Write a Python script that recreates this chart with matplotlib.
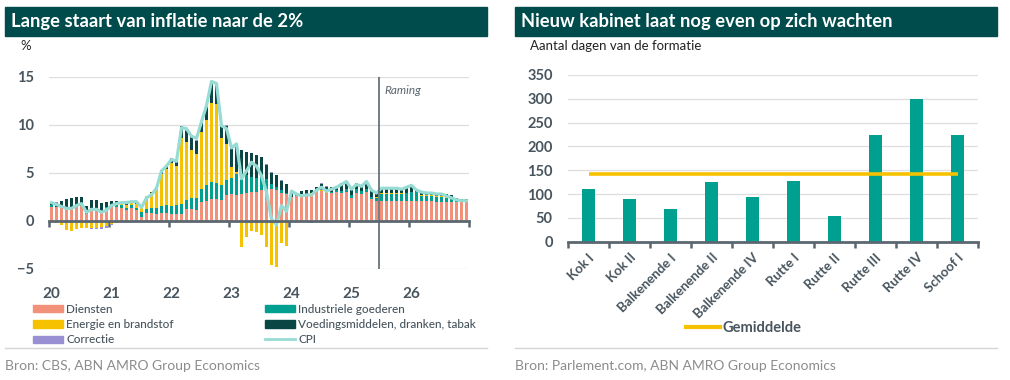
import numpy as np
import matplotlib.pyplot as plt
from matplotlib.patches import Rectangle, Patch
from matplotlib.lines import Line2D

plt.rcParams['font.family'] = ['Lato', 'DejaVu Sans']

## Data links: bijdrage aan de inflatie per maand, jan 2020 t/m dec 2026 (procentpunt)
jaren = ['20', '21', '22', '23', '24', '25', '26']
raming_vanaf = (2025, 7)   # begin van de raming

diensten = [1.45, 1.4, 1.4, 1.3, 1.3, 1.45, 1.6, 0.75, 1.3, 1.25, 0.95, 1.3,
            1.45, 1.45, 1.3, 1.1, 1.3, 1.1, 0.4, 0.8, 0.8, 0.75, 0.85, 0.8,
            0.75, 0.75, 0.75, 1.2, 1.2, 1.15, 1.95, 2.1, 2.3, 2.3, 2.2, 2.7,
            2.8, 2.7, 2.85, 2.9, 3.0, 3.0, 3.2, 3.3, 3.3, 3.2, 2.9, 2.8,
            2.5, 2.6, 2.65, 2.6, 2.8, 3.0, 3.1, 2.9, 2.9, 3.0, 2.9, 3.0,
            2.4, 2.9, 2.8, 3.0, 2.3, 2.1, 2.1, 2.1, 2.1, 2.1, 2.1, 2.1,
            2.1, 2.1, 2.1, 2.1, 2.1, 2.0, 2.0, 2.0, 2.0, 2.0, 2.0, 2.0]
industrie = [0.25, 0.1, 0.1, 0.1, 0.1, 0.1, 0.1, 0.1, 0.05, 0.1, 0.1, 0.1,
             0.3, 0.3, 0.35, 0.25, 0.35, 0.25, 0.5, 0.45, 0.5, 0.6, 0.75, 0.85,
             0.85, 0.95, 1.0, 1.0, 1.2, 1.2, 1.4, 1.6, 1.7, 1.6, 1.5, 1.6,
             1.7, 2.2, 1.9, 1.9, 1.6, 1.5, 1.4, 1.1, 0.5, 0.35, 0.3, 0.15,
             0.0, 0.05, 0.05, -0.15, -0.2, 0.0, 0.0, 0.05, 0.1, 0.2, 0.2, 0.3,
             0.3, 0.4, 0.3, 0.3, 0.2, 0.3, 0.7, 0.7, 0.7, 0.7, 0.7, 0.8,
             0.9, 0.9, 0.5, 0.5, 0.5, 0.5, 0.5, 0.4, 0.3, 0.1, 0.05, 0.05]
energie = [-0.1, -0.2, -0.45, -0.9, -1.0, -0.8, -0.7, -0.75, -0.7, -0.7, -0.65, -0.55,
           -0.35, -0.2, 0.15, 0.35, 0.35, 0.4, 0.5, 1.3, 1.6, 2.0, 3.3, 3.8,
           4.4, 4.0, 6.9, 6.0, 5.0, 4.6, 5.9, 6.8, 8.3, 8.3, 4.9, 3.7,
           1.1, 0.2, -2.7, -1.65, -1.0, -1.2, -1.5, -2.7, -4.6, -4.75, -2.3, -2.6,
           0.0, -0.1, 0.05, 0.1, 0.1, 0.1, 0.1, 0.1, 0.0, -0.1, -0.1, 0.0,
           -0.05, -0.1, 0.0, 0.0, 0.0, 0.05, 0.1, 0.1, 0.1, 0.1, 0.1, 0.05,
           0.05, 0.0, 0.05, 0.05, 0.05, 0.05, 0.05, 0.1, 0.1, 0.1, 0.1, 0.1]
voeding = [0.3, 0.3, 0.6, 0.9, 1.0, 0.9, 0.8, 0.75, 0.8, 0.85, 0.8, 0.6,
           0.3, 0.3, 0.1, 0.1, 0.1, 0.1, 0.0, 0.0, 0.1, 0.2, 0.35, 0.4,
           0.5, 0.7, 1.2, 1.2, 1.4, 1.4, 0.9, 1.3, 1.9, 1.8, 1.3, 1.9,
           1.9, 2.6, 2.6, 2.4, 2.5, 2.4, 2.0, 1.4, 1.2, 1.2, 1.0, 0.9,
           0.5, 0.3, 0.4, 0.5, 0.3, 0.4, 0.6, 0.5, 0.5, 0.4, 0.8, 0.8,
           0.6, 0.6, 0.5, 0.6, 0.7, 0.5, 0.5, 0.5, 0.5, 0.5, 0.5, 0.5,
           0.6, 0.3, 0.4, 0.35, 0.3, 0.3, 0.3, 0.3, 0.25, 0.2, 0.1, 0.1]
correctie = [0.0, 0.15, 0.0, 0.0, 0.0, 0.0, 0.0, 0.0, -0.1, -0.15, -0.15, -0.2,
             -0.1, 0.0, 0.0, 0.0, 0.0, 0.0, 0.0, 0.0, 0.0, 0.0, 0.0, 0.0,
             0.0, 0.0, 0.0, 0.15, 0.15, 0.1, 0.1, 0.1, 0.1, 0.1, 0.05, 0.05,
             0.1, 0.2, 0.05, 0.0, 0.0, 0.0, 0.0, 0.1, 0.05, 0.0, 0.1, 0.0,
             0.0, 0.0, 0.0, 0.0, 0.0, 0.0, 0.1, 0.1, 0.0, 0.0, 0.0, 0.0,
             0.0, 0.0, 0.0, 0.2, 0.0, 0.0, 0.0, 0.0, 0.0, 0.0, 0.0, 0.0,
             0.0, 0.0, 0.0, 0.0, 0.0, 0.0, 0.0, 0.0, 0.0, 0.0, 0.0, 0.0]
cpi = [1.9, 1.7, 1.5, 1.3, 1.3, 1.6, 1.8, 0.9, 1.2, 1.2, 0.9, 1.1,
       1.6, 1.8, 1.9, 1.9, 2.0, 2.0, 1.4, 2.4, 2.7, 3.4, 5.2, 5.7,
       6.4, 6.2, 9.7, 9.6, 8.8, 8.6, 10.3, 12.0, 14.5, 14.3, 9.9, 9.6,
       7.6, 8.0, 4.4, 5.2, 6.1, 5.7, 4.7, 3.0, 0.2, -0.4, 1.6, 1.0,
       3.1, 2.8, 2.6, 2.7, 2.7, 3.2, 3.5, 3.1, 3.3, 3.5, 3.8, 4.1,
       3.3, 3.8, 3.6, 4.1, 3.2, 2.9, 3.4, 3.4, 3.4, 3.4, 3.3, 3.5,
       3.7, 3.2, 3.0, 2.9, 2.9, 2.8, 2.8, 2.6, 2.4, 2.2, 2.1, 2.1]

## Data rechts: duur van de formatie
kabinetten = ['Kok I', 'Kok II', 'Balkenende I', 'Balkenende II', 'Balkenende IV',
              'Rutte I', 'Rutte II', 'Rutte III', 'Rutte IV', 'Schoof I']
dagen = [111, 90, 68, 125, 93, 127, 54, 225, 299, 223]
gemiddelde = 141.5

## Kleuren
groen = '#004b4b'
tekst = '#48555e'
as_kleur = '#5b6770'
grid_kleur = '#dedede'
kl_diensten = '#f3907a'
kl_industrie = '#00a091'
kl_energie = '#f6c200'
kl_voeding = '#0a4644'
kl_correctie = '#9990d3'
kl_cpi = '#96dcd4'

W, H = 1010, 380
fig = plt.figure(figsize=(W / 100, H / 100), dpi=100)


def fx(x):
    return x / W


def fy(y):
    return 1 - y / H


# Titelbalken, bronvermelding en scheidingslijnen
for x0, titel, bron in [(5, 'Lange staart van inflatie naar de 2%', 'Bron: CBS, ABN AMRO Group Economics'),
                        (515, 'Nieuw kabinet laat nog even op zich wachten',
                         'Bron: Parlement.com, ABN AMRO Group Economics')]:
    fig.patches.append(Rectangle((fx(x0), fy(36)), 482 / W, 29 / H, transform=fig.transFigure,
                                 color=groen, zorder=0))
    fig.text(fx(x0 + 6), fy(21.5), titel, color='white', fontsize=13.2, fontweight='bold', va='center')
    fig.add_artist(Line2D([fx(x0), fx(x0 + 482)], [fy(348), fy(348)], color='#d5d5d5', lw=1))
    fig.text(fx(x0), fy(366), bron, color='#8c8c8c', fontsize=10, va='center')

fig.text(fx(20), fy(46), '%', fontsize=9.5, color='#222222', va='center')
fig.text(fx(530), fy(46), 'Aantal dagen van de formatie', fontsize=9.5, color='#222222', va='center')

## Links: gestapelde bijdragen + CPI
ax1 = fig.add_axes([fx(49), fy(269), 420 / W, 192.3 / H])
n = len(diensten)
maand = np.arange(n)
pos = np.zeros(n)
neg = np.zeros(n)
for waarden, kleur in [(diensten, kl_diensten), (industrie, kl_industrie), (energie, kl_energie),
                       (voeding, kl_voeding), (correctie, kl_correctie)]:
    w = np.array(waarden)
    onder = np.where(w >= 0, pos, neg)
    ax1.bar(maand + 0.5, w, width=0.65, bottom=onder, color=kleur, zorder=2)
    pos += np.clip(w, 0, None)
    neg += np.clip(w, None, 0)
ax1.plot(maand + 0.5, cpi, color=kl_cpi, lw=2.3, zorder=3, solid_joinstyle='round')

ax1.set_xlim(0, n)
ax1.set_ylim(-5, 15)
ax1.set_yticks([-5, 0, 5, 10, 15])
ax1.yaxis.grid(True, color=grid_kleur, lw=0.9)
ax1.set_axisbelow(True)
for s in ['top', 'right', 'left']:
    ax1.spines[s].set_visible(False)
ax1.spines['bottom'].set_position(('data', 0))
ax1.spines['bottom'].set_color(as_kleur)
ax1.spines['bottom'].set_linewidth(2)
ax1.spines['bottom'].set_zorder(4)
ax1.set_xticks(np.arange(0, n + 1, 12))
ax1.tick_params(axis='x', length=4, width=1.8, color=as_kleur, labelbottom=False)
ax1.tick_params(axis='y', length=0, pad=11, labelsize=10.5, labelcolor=tekst)
for lbl in ax1.get_yticklabels():
    lbl.set_fontweight('bold')

sec = ax1.secondary_xaxis('bottom')
sec.set_xticks(np.arange(0, n, 12) + 0.5, jaren)
sec.tick_params(length=0, pad=13, labelsize=11, labelcolor=tekst)
sec.spines['bottom'].set_visible(False)
for lbl in sec.get_xticklabels():
    lbl.set_fontweight('bold')

raming_idx = (raming_vanaf[0] - 2020) * 12 + raming_vanaf[1] - 1
ax1.axvline(raming_idx, color=as_kleur, lw=1.2, zorder=4)
ax1.text(raming_idx + 1, 13.6, 'Raming', fontsize=8.5, style='italic', color=as_kleur, va='center')

# Legenda links in twee kolommen
lp = dict(loc='upper left', frameon=False, handlelength=2.5, handleheight=0.55, handletextpad=0.3,
          labelspacing=0.35, borderaxespad=0, borderpad=0, labelcolor=tekst,
          prop=dict(size=8.5, weight='medium'))
fig.legend(handles=[Patch(color=kl_diensten), Patch(color=kl_energie), Patch(color=kl_correctie)],
           labels=['Diensten', 'Energie en brandstof', 'Correctie'],
           bbox_to_anchor=(fx(33), fy(304)), **lp)
fig.legend(handles=[Patch(color=kl_industrie), Patch(color=kl_voeding), Line2D([], [], color=kl_cpi, lw=2)],
           labels=['Industriele goederen', 'Voedingsmiddelen, dranken, tabak', 'CPI'],
           bbox_to_anchor=(fx(265), fy(304)), **lp)

## Rechts: formatieduur per kabinet
ax2 = fig.add_axes([fx(568), fy(241.7), 410 / W, 166.7 / H])
x = np.arange(len(kabinetten))
ax2.bar(x, dagen, width=0.32, color=kl_industrie, zorder=2)
ax2.hlines(gemiddelde, x[0], x[-1], color=kl_energie, lw=2.6, zorder=3)
ax2.set_xlim(-0.5, len(kabinetten) - 0.5)
ax2.set_ylim(0, 350)
ax2.set_yticks(np.arange(0, 351, 50))
ax2.yaxis.grid(True, color=grid_kleur, lw=0.9)
ax2.set_axisbelow(True)
for s in ['top', 'right', 'left']:
    ax2.spines[s].set_visible(False)
ax2.spines['bottom'].set_color(as_kleur)
ax2.spines['bottom'].set_linewidth(2)
ax2.set_xticks(x, kabinetten, rotation=45, ha='right', rotation_mode='anchor')
ax2.set_xticks(np.arange(-0.5, len(kabinetten)), minor=True)
ax2.tick_params(axis='x', which='major', length=0, pad=7, labelsize=9.5, labelcolor=tekst)
ax2.tick_params(axis='x', which='minor', length=4, width=1.8, color=as_kleur)
ax2.tick_params(axis='y', length=0, pad=11, labelsize=10.5, labelcolor=tekst)
for lbl in ax2.get_xticklabels() + ax2.get_yticklabels():
    lbl.set_fontweight('bold')

fig.legend(handles=[Line2D([], [], color=kl_energie, lw=3)], labels=['Gemiddelde'], loc='center',
           bbox_to_anchor=(fx(744), fy(328)), frameon=False, handlelength=2.3, handletextpad=0.2,
           labelcolor=tekst, prop=dict(size=10.5, weight='bold'))

fig.savefig('out.png', dpi=100, facecolor='white')
